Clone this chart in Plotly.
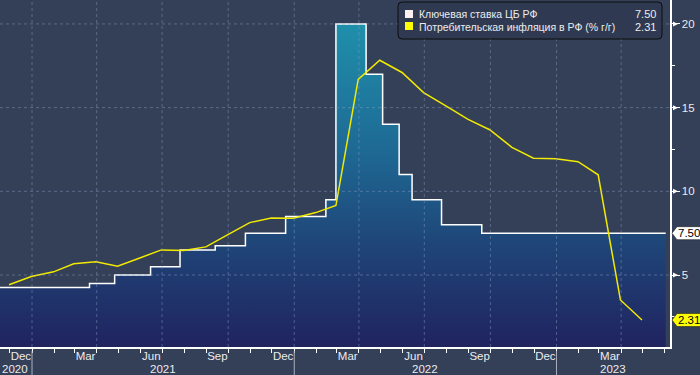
import plotly.graph_objects as go

# ---------------- data ----------------
key_rate_dates = ['2020-11-01', '2021-03-22', '2021-04-26', '2021-06-15', '2021-07-26',
                  '2021-09-13', '2021-10-25', '2021-12-20', '2022-02-14', '2022-02-28',
                  '2022-04-11', '2022-05-04', '2022-05-27', '2022-06-14', '2022-07-25',
                  '2022-09-19', '2023-06-02']
key_rate = [4.25, 4.50, 5.00, 5.50, 6.50, 6.75, 7.50, 8.50, 9.50, 20.00,
            17.00, 14.00, 11.00, 9.50, 8.00, 7.50, 7.50]

cpi_dates = ['2020-11-30', '2020-12-31', '2021-01-31', '2021-02-28', '2021-03-31', '2021-04-30',
             '2021-05-31', '2021-06-30', '2021-07-31', '2021-08-31', '2021-09-30', '2021-10-31',
             '2021-11-30', '2021-12-31', '2022-01-31', '2022-02-28', '2022-03-31', '2022-04-30',
             '2022-05-31', '2022-06-30', '2022-07-31', '2022-08-31', '2022-09-30', '2022-10-31',
             '2022-11-30', '2022-12-31', '2023-01-31', '2023-02-28', '2023-03-31', '2023-04-30']
cpi = [4.42, 4.91, 5.19, 5.67, 5.79, 5.53, 6.02, 6.50, 6.46, 6.68, 7.40, 8.13,
       8.40, 8.39, 8.73, 9.15, 16.69, 17.83, 17.10, 15.90, 15.10, 14.30, 13.68, 12.63,
       11.98, 11.94, 11.77, 10.99, 3.51, 2.31]

series_names = ['Ключевая ставка ЦБ РФ', 'Потребительская инфляция в РФ (% г/г)']
last_values = ['7.50', '2.31']
y_ticks = [5, 10, 15, 20]
y_minor_ticks = [2.5, 7.5, 12.5, 17.5]
years = ['2020', '2021', '2022', '2023']
year_centers = [None, '2021-07-02', '2022-07-02', '2023-03-21']
year_starts = ['2021-01-01', '2022-01-01', '2023-01-01']
grid_dates = ['2021-01-01', '2021-04-01', '2021-07-01', '2021-10-01', '2022-01-01',
              '2022-04-01', '2022-07-01', '2022-10-01', '2023-01-01', '2023-04-01']

# ---------------- style ----------------
BG = '#343f58'
TXT = '#ececec'
FONT = 'Liberation Sans'
YEL = '#f2ea00'
W, H = 700, 375
ML, MR, MT, MB = 0, 30, 0, 28
PW, PH = W - ML - MR, H - MT - MB


def px(x):
    return x / PW


def py(y):
    return 1 - y / PH


fig = go.Figure()

fig.add_trace(go.Scatter(
    x=key_rate_dates, y=key_rate, mode='lines', line=dict(color='white', width=1.5, shape='hv'),
    fill='tozeroy',
    fillgradient=dict(type='vertical', start=0.7, stop=20.5,
                      colorscale=[[0, '#20235f'], [0.3, '#1f4477'], [0.6, '#1e6a95'], [1, '#1f92ac']]),
    name=series_names[0], hoverinfo='skip', showlegend=False))

fig.add_trace(go.Scatter(
    x=cpi_dates, y=cpi, mode='lines', line=dict(color=YEL, width=1.5),
    name=series_names[1], hoverinfo='skip', showlegend=False))

shapes = []
grid_col = 'rgba(140,160,195,0.45)'
for v in y_ticks:
    shapes.append(dict(type='line', xref='paper', yref='y', x0=0, x1=1, y0=v, y1=v,
                       line=dict(color=grid_col, width=1, dash='3px,3px'), layer='above'))
for d in grid_dates:
    shapes.append(dict(type='line', xref='x', yref='paper', x0=d, x1=d, y0=0, y1=1,
                       line=dict(color=grid_col, width=1, dash='3px,3px'), layer='above'))
# year separators below the axis
for d in year_starts:
    shapes.append(dict(type='line', xref='x', yref='paper', x0=d, x1=d,
                       y0=-4 / PH, y1=-28 / PH, line=dict(color='#a8b0c0', width=1)))
# arrow markers on the y ticks
for v in y_ticks:
    shapes.append(dict(type='path', xref='paper', yref='y', xsizemode='pixel', ysizemode='pixel',
                       xanchor=1, yanchor=v, path='M 3,-2.5 L 8,0 L 3,2.5 Z',
                       fillcolor='white', line=dict(width=0)))
# last value tags
tag_fill = ['white', '#ffff00']
tag_y = [key_rate[-1], cpi[-1]]
for val, col in zip(tag_y, tag_fill):
    shapes.append(dict(type='path', xref='paper', yref='y', xsizemode='pixel', ysizemode='pixel',
                       xanchor=1, yanchor=val,
                       path='M 2,0 L 7,6.5 L 31,6.5 L 31,-6.5 L 7,-6.5 Z',
                       fillcolor=col, line=dict(color='#222222', width=0.6)))
# legend box
x0, x1, y0, y1, r = 398, 662, -2, -39, 4
shapes.append(dict(type='path', xref='paper', yref='paper', xsizemode='pixel', ysizemode='pixel',
                   xanchor=0, yanchor=1,
                   path=(f'M {x0 + r},{y0} L {x1 - r},{y0} Q {x1},{y0} {x1},{y0 - r} '
                         f'L {x1},{y1 + r} Q {x1},{y1} {x1 - r},{y1} L {x0 + r},{y1} '
                         f'Q {x0},{y1} {x0},{y1 + r} L {x0},{y0 - r} Q {x0},{y0} {x0 + r},{y0} Z'),
                   fillcolor='#2f3a52', line=dict(color='#0c0c0c', width=1), layer='above'))
sq_cols = ['#fbf0f0', '#ffff00']
sq_top = [10, 22]
for c, t in zip(sq_cols, sq_top):
    shapes.append(dict(type='rect', xref='paper', yref='paper', x0=px(405), x1=px(413),
                       y0=py(t + 8), y1=py(t), fillcolor=c, line=dict(width=0), layer='above'))

annotations = []
line_y = [14, 27]
for name, val, ly in zip(series_names, last_values, line_y):
    annotations.append(dict(xref='paper', yref='paper', x=px(417), y=py(ly), text=name,
                            xanchor='left', yanchor='middle', showarrow=False,
                            font=dict(family=FONT, size=10.5, color=TXT)))
    annotations.append(dict(xref='paper', yref='paper', x=px(658), y=py(ly), text=val,
                            xanchor='right', yanchor='middle', showarrow=False,
                            font=dict(family=FONT, size=11, color=TXT)))
for val, txt in zip(tag_y, last_values):
    annotations.append(dict(xref='paper', yref='y', x=1, y=val, text=txt, xanchor='left',
                            yanchor='middle', xshift=6, showarrow=False,
                            font=dict(family=FONT, size=11.5, color='black')))
for yr, c in zip(years, year_centers):
    if c is None:
        annotations.append(dict(xref='paper', yref='paper', x=0, y=0, yshift=-22, text=yr,
                                xanchor='left', yanchor='middle', showarrow=False,
                                font=dict(family=FONT, size=11.5, color=TXT)))
    else:
        annotations.append(dict(xref='x', yref='paper', x=c, y=0, yshift=-22, text=yr,
                                xanchor='center', yanchor='middle', showarrow=False,
                                font=dict(family=FONT, size=11.5, color=TXT)))

hide = {m: ' ' for m in ['Jan', 'Feb', 'Apr', 'May', 'Jul', 'Aug', 'Oct', 'Nov']}

fig.update_layout(
    width=W, height=H, autosize=False,
    margin=dict(l=ML, r=MR, t=MT, b=MB, pad=0),
    paper_bgcolor=BG, plot_bgcolor=BG,
    font=dict(family=FONT, size=11.5, color=TXT),
    shapes=shapes, annotations=annotations, showlegend=False,
    xaxis=dict(type='date', range=['2020-11-17 10:00', '2023-06-08'], automargin=False,
               showgrid=False, zeroline=False, showline=True, linecolor='white', linewidth=1.5,
               ticks='outside', ticklen=4, tickcolor='white', tickwidth=1,
               tickmode='linear', tick0='2020-11-01', dtick='M1',
               ticklabelmode='period', tickformat='%b', labelalias=hide,
               ticklabelstandoff=-6,
               tickfont=dict(family=FONT, size=11.5, color=TXT)),
    yaxis=dict(side='right', range=[0.70, 21.43], showgrid=False, zeroline=False,
               automargin=False,
               showline=True, linecolor='white', linewidth=1.5,
               tickmode='array', tickvals=y_ticks, ticks='outside', ticklen=8,
               tickcolor='white', tickwidth=1,
               minor=dict(tickmode='array', tickvals=y_minor_ticks, ticks='outside',
                          ticklen=3, tickcolor='white'),
               tickfont=dict(family=FONT, size=11.5, color=TXT)),
)

fig.write_html('out.html', config={'displayModeBar': False, 'staticPlot': True},
               post_script="document.body.style.margin='0px';document.body.style.overflow='hidden';")
